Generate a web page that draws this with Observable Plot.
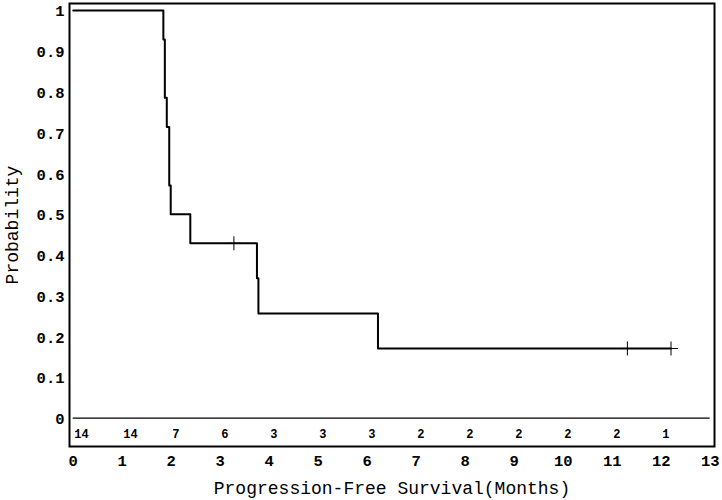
<!DOCTYPE html>
<html>
<head>
<meta charset="utf-8">
<script src="https://cdn.jsdelivr.net/npm/d3@7"></script>
<script src="https://cdn.jsdelivr.net/npm/@observablehq/plot@0.6"></script>
<style>
  html, body { margin: 0; padding: 0; background: #fff; }
  #chart svg { display: block; }
</style>
</head>
<body>
<div id="chart"></div>
<script>
// Kaplan-Meier step curve (time in months, survival probability)
const times = [0, 1.84, 1.87, 1.91, 1.96, 1.99, 2.39, 3.75, 3.78, 6.22, 12.2];
const surv  = [1, 0.929, 0.786, 0.714, 0.571, 0.5, 0.429, 0.343, 0.257, 0.171, 0.171];

// Censored observations
const censorTimes = [3.28, 11.31, 12.2];
const censorSurv  = [0.429, 0.171, 0.171];

// Number at risk shown at each month tick
const riskTimes  = [0, 1, 2, 3, 4, 5, 6, 7, 8, 9, 10, 11, 12];
const riskCounts = [14, 14, 7, 6, 3, 3, 3, 2, 2, 2, 2, 2, 1];

// Axis ticks
const xTicks = [0, 1, 2, 3, 4, 5, 6, 7, 8, 9, 10, 11, 12, 13];
const yTicks = [0, 0.1, 0.2, 0.3, 0.4, 0.5, 0.6, 0.7, 0.8, 0.9, 1];
const yTickLabels = ["0", "0.1", "0.2", "0.3", "0.4", "0.5", "0.6", "0.7", "0.8", "0.9", "1"];

const xTitle = "Progression-Free Survival(Months)";
const yTitle = "Probability";

const curve = times.map((t, i) => ({t, s: surv[i]}));
const censors = censorTimes.map((t, i) => ({t, s: censorSurv[i]}));
const risk = riskTimes.map((t, i) => ({t, n: riskCounts[i]}));

const plusSymbol = {
  draw(context) {
    context.moveTo(-7, 0); context.lineTo(7, 0);
    context.moveTo(0, -7); context.lineTo(0, 7);
  }
};

const mono = "'Liberation Mono', 'Courier New', monospace";

const chart = Plot.plot({
  width: 722,
  height: 500,
  marginLeft: 69,
  marginRight: 8,
  marginTop: 3,
  marginBottom: 54,
  style: {fontFamily: mono, color: "#000", background: "#fff", overflow: "visible"},
  x: {domain: [0, 13], range: [72.7, 709.7]},
  y: {domain: [0, 1], range: [417.7, 10]},
  marks: [
    Plot.frame({stroke: "#000", strokeWidth: 2}),
    Plot.ruleY([0], {x1: xTicks[0], x2: xTicks[xTicks.length - 1], stroke: "#000", strokeWidth: 1.3}),
    Plot.axisX({
      ticks: xTicks, tickSize: 0, tickPadding: 8, label: null,
      fontSize: 15.5, fontWeight: "bold", tickFormat: d => String(d)
    }),
    Plot.axisY({
      ticks: yTicks, tickSize: 0, tickPadding: 5, label: null,
      fontSize: 15.5, fontWeight: "bold", dy: 1,
      tickFormat: d => yTickLabels[yTicks.indexOf(d)]
    }),
    Plot.line(curve, {x: "t", y: "s", curve: "step-after", stroke: "#000", strokeWidth: 2}),
    Plot.dot(censors, {x: "t", y: "s", symbol: plusSymbol, stroke: "#000", strokeWidth: 1, fill: "none", r: 7}),
    Plot.text(risk, {
      x: "t", text: d => String(d.n), frameAnchor: "bottom", lineAnchor: "middle", dy: -12.5, dx: 1,
      textAnchor: "start", fontSize: 12, fontWeight: "bold", fill: "#000"
    }),
    Plot.text([xTitle], {frameAnchor: "bottom", lineAnchor: "middle", textAnchor: "middle", dy: 42, fontSize: 18, fill: "#000"}),
    Plot.text([yTitle], {frameAnchor: "left", lineAnchor: "middle", textAnchor: "middle", dx: -57, rotate: -90, fontSize: 18, fill: "#000"})
  ]
});

document.getElementById("chart").appendChild(chart);
</script>
</body>
</html>
